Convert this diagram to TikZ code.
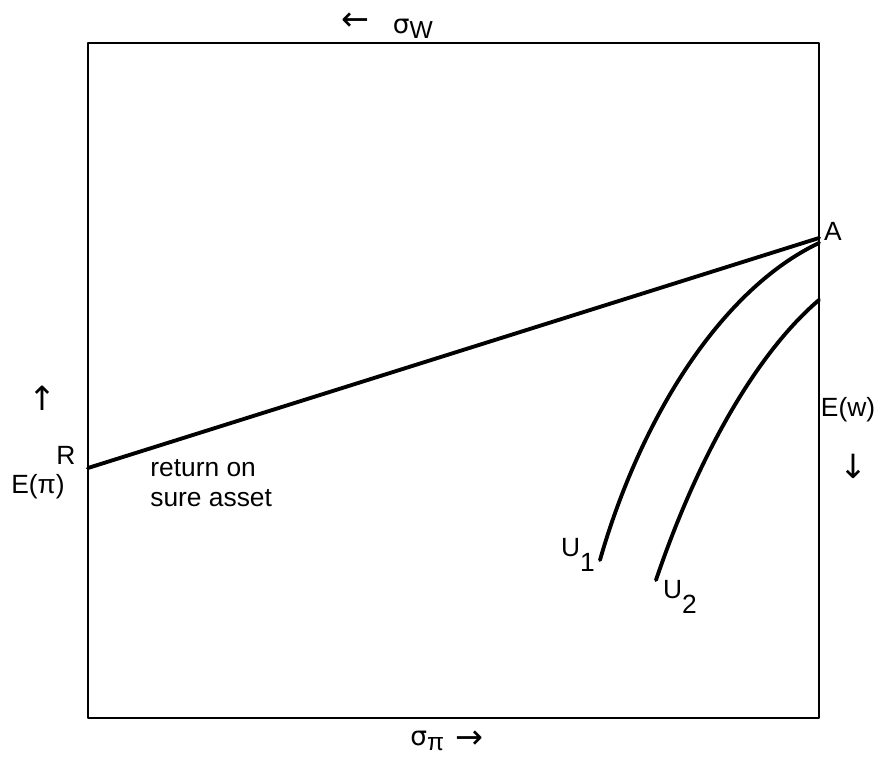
\documentclass[tikz,border=0pt]{standalone}
\usepackage{fontspec}
\setmainfont{Liberation Sans}
\newfontfamily\symfont{DejaVu Sans}
\usepackage{tikz}
\usetikzlibrary{arrows.meta}
\tikzset{
  every picture/.style={font=\fontsize{15}{17}\selectfont, line join=round, line cap=round},
  frame/.style={line width=1.6pt},
  curve/.style={line width=2.2pt},
  lbl/.style={inner sep=0pt},
  arr/.style={inner sep=0pt, font=\symfont\fontsize{19}{21}\selectfont},
}
\begin{document}
\begin{tikzpicture}
\useasboundingbox (0,0) rectangle (17.92,15.18);
% box
\draw[frame](1.76,0.82) rectangle (16.38,14.32);
\coordinate (R) at (1.76,5.82);
\coordinate (A) at (16.38,10.42);
\coordinate (U1a) at (16.38,10.32);
\coordinate (U1b) at (12.0,3.98);
\coordinate (U2a) at (16.38,9.18);
\coordinate (U2b) at (13.12,3.58);
% sure asset line and curves
\draw[curve](R)--(A);
\draw[curve](U1b) .. controls (12.8,6.78) and (14.4,9.38) .. (U1a);
\draw[curve](U2b) .. controls (14.0,6.18) and (15.2,8.18) .. (U2a);
% labels
\node[arr] (topar) at (7.1,14.74) {←};
\node[lbl,anchor=base west] (sw) at (7.85,14.5) {{\symfont σ}\raisebox{-0.35ex}{\fontsize{14}{16}\selectfont W}};
\node[lbl,anchor=base west] (sp) at (8.2,0.26) {{\symfont σ}\raisebox{-0.3ex}{\fontsize{14}{16}\selectfont π}};
\node[arr] (botar) at (9.38,0.38) {→};
\node[arr] (upar) at (0.84,7.22) {↑};
\node[lbl] (Rl) at (1.32,6.08) {R};
\node[lbl] (Epi) at (0.76,5.44) {E(π)};
\node[lbl] (Al) at (16.66,10.56) {A};
\node[lbl] (Ew) at (16.96,6.98) {E(w)};
\node[arr] (dnar) at (17.06,5.86) {↓};
\node[lbl,anchor=north west,align=left] (ret) at (3.0,6.0) {return on\\sure asset};
\node[lbl] (U1l) at (11.56,4.08) {U\raisebox{-1.1ex}{1}};
\node[lbl] (U2l) at (13.6,3.24) {U\raisebox{-1.1ex}{2}};
\end{tikzpicture}
\end{document}
